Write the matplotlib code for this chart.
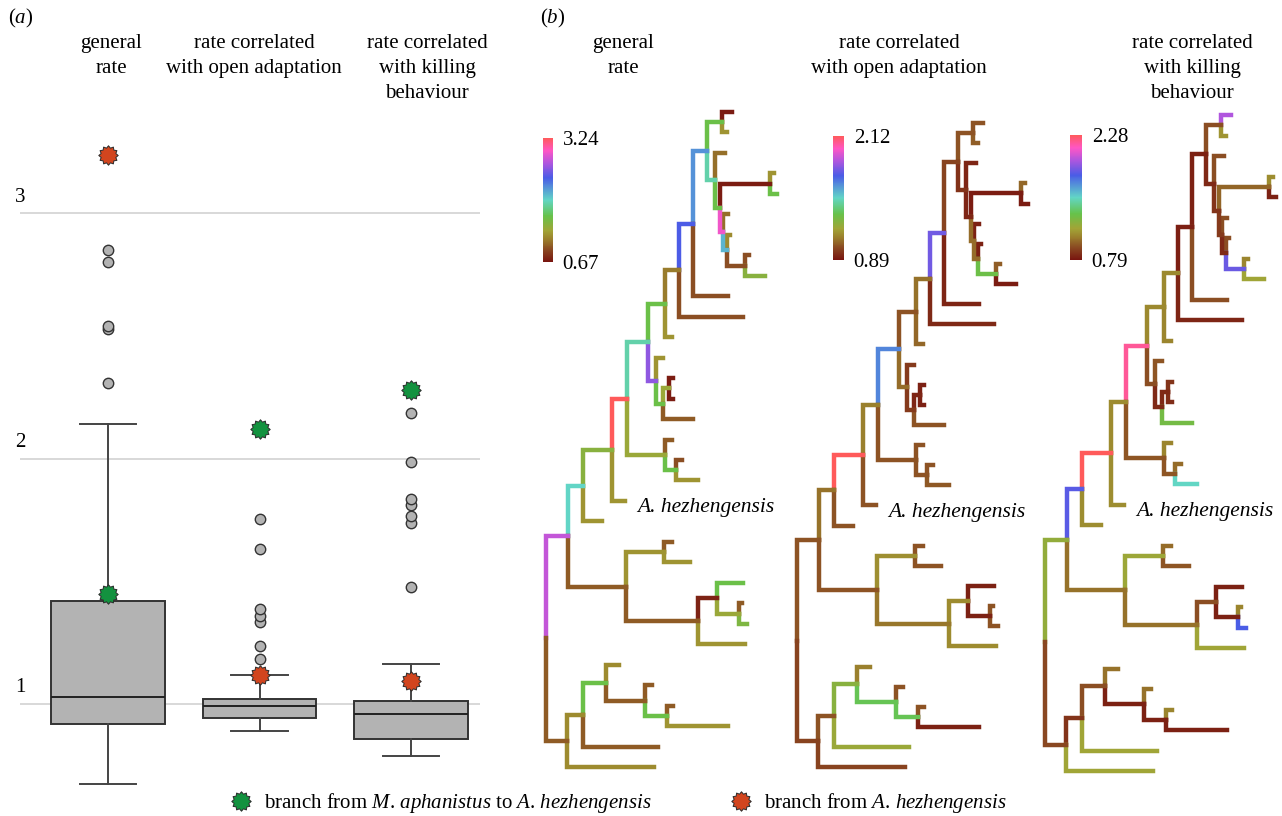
import numpy as np
import matplotlib
matplotlib.use('Agg')
import matplotlib.pyplot as plt
from matplotlib.path import Path
from matplotlib.collections import LineCollection
from matplotlib.colors import LinearSegmentedColormap, Normalize
from matplotlib.lines import Line2D
from matplotlib.transforms import offset_copy
import matplotlib.cm as cm

plt.rcParams['font.family'] = 'Liberation Serif'
plt.rcParams['mathtext.fontset'] = 'custom'
plt.rcParams['mathtext.rm'] = 'Liberation Serif'
plt.rcParams['mathtext.it'] = 'Liberation Serif:italic'
plt.rcParams['font.size'] = 15

# ---------------- panel (a): rate distributions ----------------
box_titles = ['general\nrate', 'rate correlated\nwith open adaptation',
              'rate correlated\nwith killing\nbehaviour']
box_med = [1.03, 0.99, 0.96]
box_q1 = [0.92, 0.944, 0.857]
box_q3 = [1.42, 1.02, 1.014]
box_lo = [0.674, 0.89, 0.79]
box_hi = [2.14, 1.117, 1.164]
fliers_general = [2.31, 2.53, 2.54, 2.80, 2.85]
fliers_open = [1.185, 1.236, 1.333, 1.36, 1.386, 1.633, 1.754]
fliers_kill = [1.477, 1.736, 1.765, 1.81, 1.835, 1.986, 2.188]
star_green = [1.45, 2.12, 2.28]   # branch M. aphanistus -> A. hezhengensis
star_red = [3.24, 1.117, 1.095]   # branch from A. hezhengensis

# ---------------- panel (b): time trees ----------------
newick = ("(((((((((((L0,L1)J,(L2,((L3,L4)N,(L5,(L6,(L7,L8)Q)P)O)M)K)I,L9)H,L10)G,L11)F,"
          "(L12,((L13,L14)U,L15)T)S)E,(L16,(L17,L18)W)V)D,L19)C,L20)B,"
          "((L21,L22)Y,((L23,(L24,L25)AB)AA,L26)Z)X)A,"
          "(((L27,(L28,(L29,L30)AG)AF)AE,L31)AD,L32)AC)R")
node_names = ['R', 'A', 'B', 'C', 'D', 'E', 'F', 'G', 'H', 'I',
              'J', 'L0', 'L1', 'K', 'L2', 'M', 'N', 'L3', 'L4', 'O',
              'L5', 'P', 'L6', 'Q', 'L7', 'L8', 'L9', 'L10', 'L11', 'S',
              'L12', 'T', 'U', 'L13', 'L14', 'L15', 'V', 'L16', 'W', 'L17',
              'L18', 'L19', 'L20', 'X', 'Y', 'L21', 'L22', 'Z', 'AA', 'L23',
              'AB', 'L24', 'L25', 'L26', 'AC', 'AD', 'AE', 'L27', 'AF', 'L28',
              'AG', 'L29', 'L30', 'L31', 'L32']
node_depth = [0, 22, 37, 66, 81, 102, 119, 133, 147, 161,
              176, 186, 181, 169, 179, 174, 224, 228, 231, 177,
              182, 181, 184, 199, 203, 219, 182, 197, 126, 110,
              117, 117, 123, 127, 127, 147, 119, 126, 130, 136,
              152, 79, 56, 80, 118, 126, 144, 152, 171, 197,
              193, 196, 201, 199, 21, 37, 60, 73, 99, 106,
              121, 127, 182, 112, 108]
rate_general = [np.nan, 2.78, 1.96, 1.45, 3.24, 1.88, 1.60, 1.13, 2.42, 2.21,
                1.60, 0.72, 1.24, 1.88, 1.08, 1.60, 0.72, 1.24, 1.60, 2.93,
                1.08, 2.08, 1.20, 0.95, 0.95, 1.45, 0.95, 0.95, 1.24, 2.62,
                1.24, 1.60, 1.36, 0.72, 0.72, 1.00, 1.36, 1.00, 1.60, 0.95,
                1.24, 1.24, 1.24, 1.00, 1.24, 1.00, 1.24, 1.00, 0.75, 1.60,
                1.36, 1.00, 1.50, 1.24, 1.00, 1.20, 1.60, 1.20, 1.00, 1.00,
                1.60, 1.00, 1.24, 1.00, 1.20]
rate_open = [np.nan, 1.03, 1.09, 2.12, 1.12, 1.65, 1.03, 1.09, 1.78, 1.00,
             1.03, 1.03, 1.05, 0.96, 0.93, 0.93, 0.91, 1.07, 0.91, 1.08,
             0.92, 1.08, 0.92, 1.33, 1.05, 0.91, 0.93, 0.94, 1.07, 1.08,
             0.98, 0.98, 0.93, 0.92, 0.92, 1.03, 1.03, 1.03, 1.03, 1.03,
             1.04, 1.03, 1.03, 1.03, 1.15, 1.03, 1.03, 1.10, 1.14, 0.92,
             0.92, 1.03, 1.03, 1.14, 1.00, 1.03, 1.26, 1.12, 1.36, 1.03,
             1.36, 1.03, 0.92, 1.22, 1.00]
rate_kill = [np.nan, 1.21, 1.83, 2.28, 1.095, 2.19, 1.09, 1.09, 0.82, 0.83,
             0.95, 1.98, 1.12, 0.85, 0.95, 0.88, 1.00, 1.10, 0.83, 0.90,
             0.95, 0.85, 0.95, 1.86, 1.08, 1.17, 0.95, 0.84, 1.08, 0.95,
             0.97, 0.85, 0.85, 0.88, 0.86, 1.30, 0.97, 1.08, 0.97, 1.02,
             1.53, 1.10, 1.10, 1.03, 1.18, 1.02, 0.97, 1.03, 0.95, 0.83,
             0.83, 1.08, 1.80, 1.17, 0.93, 0.88, 0.95, 1.03, 0.83, 1.03,
             0.83, 1.08, 0.83, 1.17, 1.17]
cbar_lo = [0.67, 0.89, 0.79]
cbar_hi = [3.24, 2.12, 2.28]

rate_cmap = LinearSegmentedColormap.from_list('rate', [
    (0.00, '#78140f'), (0.10, '#8a4a22'), (0.18, '#9a7e2c'), (0.25, '#a2a436'),
    (0.37, '#66c24a'), (0.50, '#62d6c6'), (0.68, '#4a5ce6'), (0.80, '#b056de'),
    (0.90, '#ff56c4'), (1.00, '#ff5a5a')])

W, H = 1282, 816
fig = plt.figure(figsize=(W / 100, H / 100), dpi=100)


def px_axes(x0, y0, x1, y1):
    return fig.add_axes([x0 / W, 1 - y1 / H, (x1 - x0) / W, (y1 - y0) / H])


# ---------- panel (a) ----------
ax = px_axes(20, 110, 480, 790)
stats = []
for i, fl in enumerate([fliers_general, fliers_open, fliers_kill]):
    stats.append(dict(med=box_med[i], q1=box_q1[i], q3=box_q3[i],
                      whislo=box_lo[i], whishi=box_hi[i], fliers=fl))
line_kw = dict(color='#444444', linewidth=1.4)
ax.bxp(stats, positions=[1, 2, 3], widths=0.75, patch_artist=True,
       boxprops=dict(facecolor='#b3b3b3', edgecolor='#333333', linewidth=1.4),
       medianprops=dict(color='#222222', linewidth=1.4),
       whiskerprops=line_kw, capprops=line_kw,
       flierprops=dict(marker='o', markerfacecolor='#b3b3b3', markeredgecolor='#333333',
                       markersize=7.5, markeredgewidth=1.0))
star = Path.unit_regular_star(12, 0.78)
ax.plot([1, 2, 3], star_green, ls='none', marker=star, ms=14, mfc='#13923f',
        mec='#2a2a2a', mew=0.7, zorder=5)
ax.plot([1, 2, 3], star_red, ls='none', marker=star, ms=14, mfc='#d2451e',
        mec='#2a2a2a', mew=0.7, zorder=5)
ax.set_xlim(0.419, 3.455)
ax.set_ylim(0.6494, 3.4215)
ax.set_yticks([1, 2, 3])
ax.grid(axis='y', color='#d2d2d2', linewidth=1.2)
ax.set_axisbelow(True)
ax.tick_params(left=False, labelleft=False, bottom=False, labelbottom=False)
for sp in ax.spines.values():
    sp.set_visible(False)
lab_tr = offset_copy(ax.get_yaxis_transform(), fig=fig, x=0, y=8.5, units='points')
for v in [1, 2, 3]:
    ax.text(0.0, v, str(v), transform=lab_tr, ha='center', va='baseline')

for xc, t in zip([111, 254, 427], box_titles):
    fig.text(xc / W, 1 - 34 / H, t, ha='center', va='top', linespacing=1.42)
fig.text(8 / W, 1 - 23 / H, r'($\mathit{a}$)', ha='left', va='baseline')

# ---------- panel (b) ----------
def parse(s, i=0):
    kids = []
    if s[i] == '(':
        i += 1
        while True:
            child, i = parse(s, i)
            kids.append(child)
            ch = s[i]
            i += 1
            if ch == ')':
                break
    j = i
    while i < len(s) and s[i] not in ',()':
        i += 1
    return (s[j:i], kids), i


tree, _ = parse(newick)
ypos = {}
edges = []


def place(node, counter):
    name, kids = node
    if not kids:
        ypos[name] = counter[0]
        counter[0] += 1
        return
    for k in kids:
        place(k, counter)
        edges.append((name, k[0]))
    ypos[name] = np.mean([ypos[k[0]] for k in kids])


place(tree, [0])
depth = dict(zip(node_names, node_depth))

tree_titles = ['general\nrate', 'rate correlated\nwith open adaptation',
               'rate correlated\nwith killing\nbehaviour']
title_x = [623, 899, 1192]
root_px = [546, 797, 1045]
leaf0_px = [112, 123, 115]
leaf_step = [20.47, 20.13, 20.5]
cbar_box = [(543, 138, 553, 262), (833, 136, 844, 260), (1070, 135, 1082, 260)]

for k, rates in enumerate([rate_general, rate_open, rate_kill]):
    rate = dict(zip(node_names, rates))
    norm = Normalize(cbar_lo[k], cbar_hi[k])
    rx = root_px[k]
    axt = px_axes(rx - 10, 95, rx + 250, 790)
    segs, cols = [], []
    for p, c in edges:
        segs.append([(depth[p], ypos[p]), (depth[p], ypos[c]), (depth[c], ypos[c])])
        cols.append(rate_cmap(norm(rate[c])))
    axt.add_collection(LineCollection(segs, colors=cols, linewidths=3.2,
                                      capstyle='projecting', joinstyle='miter'))
    axt.set_xlim(-10, 250)
    axt.set_ylim((790 - leaf0_px[k]) / leaf_step[k], (95 - leaf0_px[k]) / leaf_step[k])
    axt.axis('off')
    axt.annotate('A. hezhengensis', xy=(depth['L19'], ypos['L19']), xytext=(9, -5),
                 textcoords='offset points', fontstyle='italic', ha='left', va='center',
                 fontsize=15.5)

    cax = px_axes(*cbar_box[k])
    sm = cm.ScalarMappable(norm=norm, cmap=rate_cmap)
    cb = fig.colorbar(sm, cax=cax, ticks=[cbar_lo[k], cbar_hi[k]])
    cb.ax.set_yticklabels([f'{cbar_lo[k]:.2f}', f'{cbar_hi[k]:.2f}'])
    cb.outline.set_visible(False)
    cb.ax.tick_params(length=0, pad=7, labelsize=15)

    fig.text(title_x[k] / W, 1 - 34 / H, tree_titles[k], ha='center', va='top',
             linespacing=1.42)

fig.text(540 / W, 1 - 23 / H, r'($\mathit{b}$)', ha='left', va='baseline')

# ---------- legend ----------
handles = [Line2D([], [], ls='none', marker=star, ms=14, mfc='#13923f', mec='#2a2a2a', mew=0.7),
           Line2D([], [], ls='none', marker=star, ms=14, mfc='#d2451e', mec='#2a2a2a', mew=0.7)]
labels = [r'branch from $\mathit{M}$. $\mathit{aphanistus}$ to $\mathit{A}$. $\mathit{hezhengensis}$',
          r'branch from $\mathit{A}$. $\mathit{hezhengensis}$']
fig.legend(handles, labels, loc='center', bbox_to_anchor=(619 / W, 1 - 803 / H), ncol=2,
           frameon=False, handlelength=1.0, handletextpad=0.6, columnspacing=3.8,
           fontsize=15, borderpad=0)

fig.savefig('out.png', dpi=100)
